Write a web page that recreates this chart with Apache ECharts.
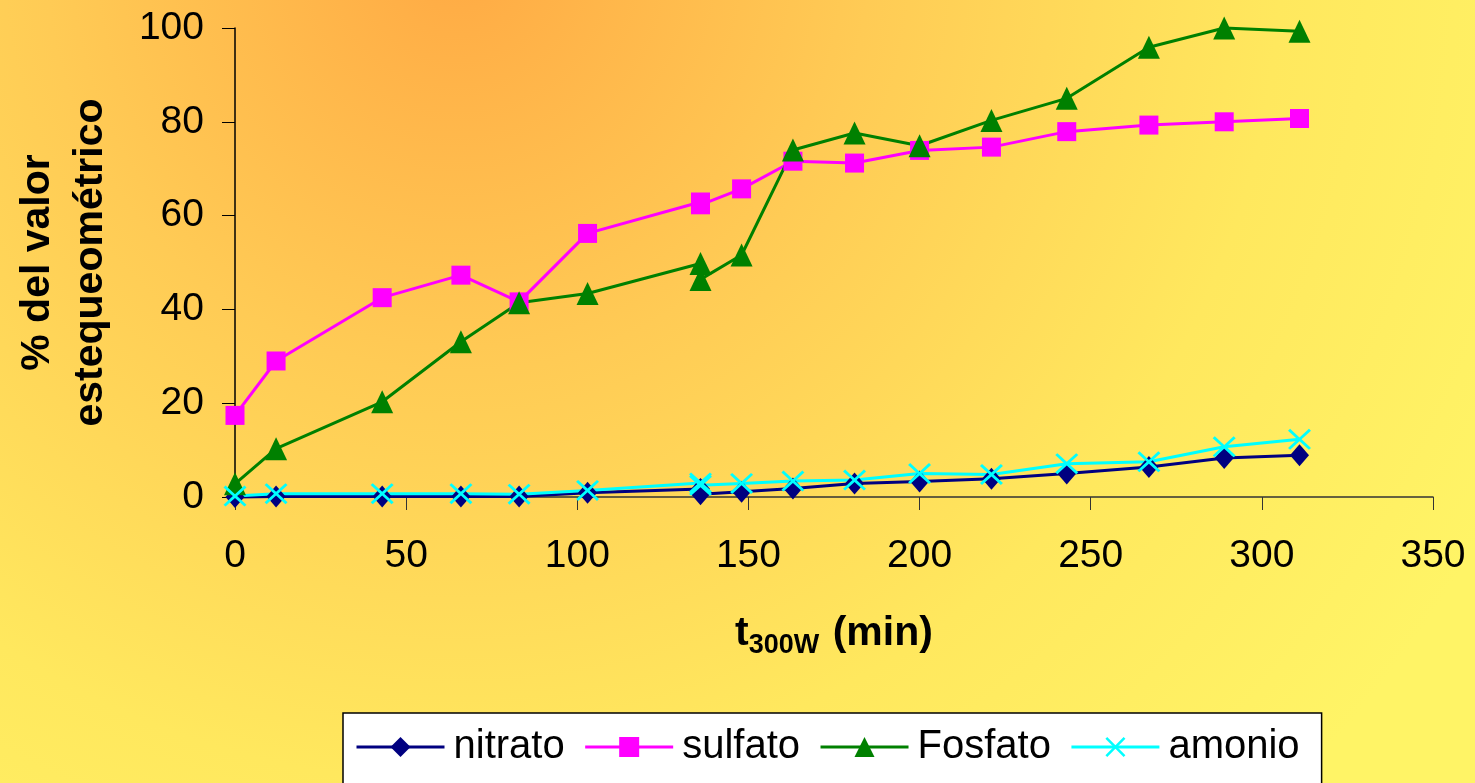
<!DOCTYPE html>
<html>
<head>
<meta charset="utf-8">
<script src="https://cdn.jsdelivr.net/npm/echarts@6/dist/echarts.min.js"></script>
<style>
html,body{margin:0;padding:0;width:1475px;height:783px;overflow:hidden;}
#chart{width:1475px;height:783px;}
</style>
</head>
<body>
<div id="chart"></div>
<script>
// Data
const time    = [0, 12, 43, 66, 83, 103, 136, 136, 148, 163, 181, 200, 221, 243, 267, 289, 311];
const nitrato = [0, 0.1, 0.1, 0.1, 0.1, 0.9, 1.7, 0.6, 1.1, 1.8, 2.9, 3.3, 3.9, 5.0, 6.4, 8.3, 8.9];
const sulfato = [17.4, 29.0, 42.5, 47.3, 41.6, 56.2, 62.9, 62.3, 65.7, 71.6, 71.2, 73.9, 74.6, 77.9, 79.3, 80.0, 80.7];
const fosfato = [2.8, 10.3, 20.3, 33.1, 41.4, 43.4, 49.8, 46.4, 51.6, 74.0, 77.6, 74.9, 80.3, 85.0, 95.9, 100.0, 99.3];
const amonio  = [0.2, 0.7, 0.7, 0.7, 0.6, 1.4, 3.0, 2.5, 2.9, 3.4, 3.6, 5.0, 4.8, 7.1, 7.5, 10.7, 12.3];
const seriesNames = ['nitrato', 'sulfato', 'Fosfato', 'amonio'];
const xTicks = {min: 0, max: 350, interval: 50};
const yTicks = {min: 0, max: 100, interval: 20};

const pair = (ys) => time.map((t, i) => [t, ys[i]]);
const FONT = '"Liberation Sans", Arial, sans-serif';
const xSymbol = 'path://M0,9L9,0L50,41L91,0L100,9L59,50L100,91L91,100L50,59L9,100L0,91L41,50Z';

const chart = echarts.init(document.getElementById('chart'), null, {renderer: 'canvas'});
const mk = (name, data, color, symbol, size) => ({
  name, type: 'line', data: pair(data), clip: false,
  symbol, symbolSize: size,
  lineStyle: {color, width: 3},
  itemStyle: {color, borderWidth: 0},
  emphasis: {disabled: true},
  animation: false
});

chart.setOption({
  backgroundColor: {
    type: 'radial', x: 0.31, y: -0.05, r: 1.5,
    colorStops: [
      {offset: 0, color: '#FFAA44'},
      {offset: 0.35, color: '#FFCB55'},
      {offset: 0.7, color: '#FFE85E'},
      {offset: 1, color: '#FFF466'}
    ]
  },
  textStyle: {fontFamily: FONT},
  animation: false,
  grid: {left: 235, right: 42, top: 28, bottom: 286, containLabel: false},
  legend: {
    left: 343, top: 713,
    data: seriesNames,
    backgroundColor: '#FFFFFF', borderColor: '#000000', borderWidth: 1.5,
    padding: [14, 22, 20, 12],
    itemWidth: 88, itemHeight: 25, itemGap: 19,
    lineStyle: {width: 3},
    textStyle: {fontSize: 40, color: '#000', fontFamily: FONT, padding: [0, 0, 0, 4]},
    selectedMode: false
  },
  xAxis: {
    type: 'value', min: xTicks.min, max: xTicks.max, interval: xTicks.interval,
    name: '{t|t}{s|300W}{t| (min)}',
    nameLocation: 'middle', nameGap: 112,
    nameTextStyle: {
      rich: {
        t: {fontSize: 41, fontWeight: 'bold', color: '#000', fontFamily: FONT, lineHeight: 50},
        s: {fontSize: 27, fontWeight: 'bold', color: '#000', fontFamily: FONT, lineHeight: 27, verticalAlign: 'bottom', padding: [0, 2, 0, 0]}
      }
    },
    axisLine: {onZero: false, lineStyle: {color: '#333', width: 1.5}},
    axisTick: {inside: false, length: 13, lineStyle: {color: '#333', width: 1}},
    axisLabel: {fontSize: 39, color: '#000', margin: 40, fontFamily: FONT},
    splitLine: {show: false}
  },
  yAxis: {
    type: 'value', min: yTicks.min, max: yTicks.max, interval: yTicks.interval,
    name: '% del valor\nestequeométrico',
    nameLocation: 'middle', nameGap: 118,
    nameTextStyle: {fontSize: 41, fontWeight: 'bold', color: '#000', lineHeight: 53, fontFamily: FONT},
    axisLine: {lineStyle: {color: '#000', width: 1.5}},
    axisTick: {inside: false, length: 13, lineStyle: {color: '#000', width: 1}},
    axisLabel: {fontSize: 39, color: '#000', margin: 31, fontFamily: FONT},
    splitLine: {show: false}
  },
  series: [
    mk('nitrato', nitrato, '#000080', 'diamond', [19, 22]),
    mk('sulfato', sulfato, '#FF00FF', 'rect', 19),
    mk('Fosfato', fosfato, '#008000', 'triangle', [22, 23]),
    mk('amonio', amonio, '#00FFFF', xSymbol, [23, 21])
  ]
});
</script>
</body>
</html>
